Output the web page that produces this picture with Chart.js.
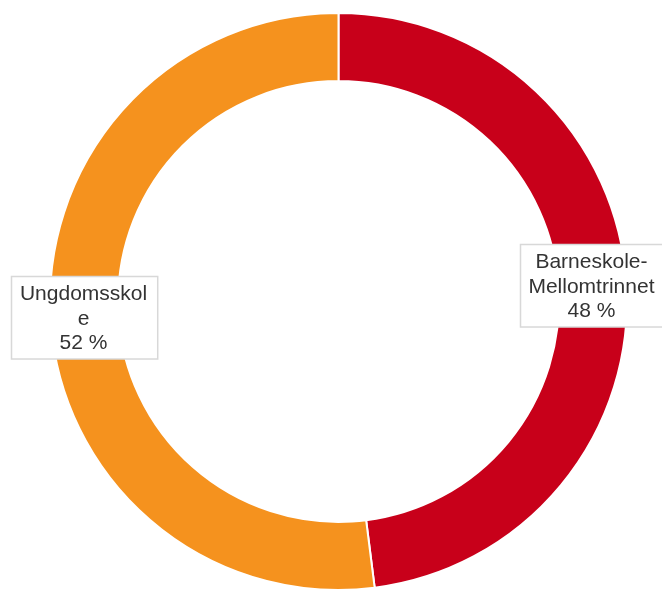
<!DOCTYPE html>
<html>
<head>
<meta charset="utf-8">
<script src="https://cdn.jsdelivr.net/npm/chart.js@4"></script>
<style>
  html, body { margin: 0; padding: 0; background: #fff; overflow: hidden; }
  #wrap { position: relative; width: 662px; height: 600px; }
</style>
</head>
<body>
<div id="wrap"><canvas id="donut"></canvas></div>
<script>
// ---------- DATA ----------
const categories = ['Barneskole-Mellomtrinnet', 'Ungdomsskole'];
const shares     = [48, 52];            // percent
const colours    = ['#c8001a', '#f5921e'];

// ---------- label plugin: boxed text centred on each arc ----------
const FONT = '21px "Liberation Sans", Arial, sans-serif';
const LINE_H = 24.5;
const MAX_W  = 132;

function wrapText (ctx, text, maxW) {
  // break after hyphens first, then by character if a piece is still too wide
  const tokens = text.split(/(?<=-)/);
  const lines = [];
  let cur = '';
  tokens.forEach(tok => {
    if (ctx.measureText(cur + tok).width <= maxW) { cur += tok; return; }
    if (cur) { lines.push(cur); cur = ''; }
    for (const ch of tok) {
      if (ctx.measureText(cur + ch).width > maxW && cur) { lines.push(cur); cur = ''; }
      cur += ch;
    }
  });
  if (cur) lines.push(cur);
  return lines;
}

const boxLabels = {
  id: 'boxLabels',
  afterDatasetsDraw (chart) {
    const ctx = chart.ctx;
    const meta = chart.getDatasetMeta(0);
    ctx.save();
    ctx.font = FONT;
    meta.data.forEach((arc, i) => {
      const p = arc.tooltipPosition();
      const lines = wrapText(ctx, categories[i], MAX_W);
      lines.push(shares[i] + ' %');
      const w = Math.max(...lines.map(l => ctx.measureText(l).width)) + 19;
      const h = lines.length * LINE_H + 9;
      const x0 = Math.round(p.x - w / 2) + 0.5, y0 = Math.round(p.y - h / 2) + 0.5;
      ctx.fillStyle = '#fff';
      ctx.fillRect(x0, y0, w, h);
      ctx.strokeStyle = '#d8d8d8';
      ctx.lineWidth = 1.5;
      ctx.strokeRect(x0, y0, w, h);
      ctx.fillStyle = '#333';
      ctx.textAlign = 'center';
      ctx.textBaseline = 'middle';
      lines.forEach((l, k) => {
        ctx.fillText(l, p.x - 1, y0 + 4.5 + LINE_H * (k + 0.5) + 1);
      });
    });
    ctx.restore();
  }
};

new Chart(document.getElementById('donut'), {
  type: 'doughnut',
  data: {
    labels: categories,
    datasets: [{
      data: shares,
      backgroundColor: colours,
      borderColor: '#fff',
      borderWidth: 2
    }]
  },
  options: {
    responsive: true,
    maintainAspectRatio: false,
    animation: false,
    cutout: '76.4%',
    layout: { padding: { left: 49, right: 34, top: 12, bottom: 9 } },
    plugins: {
      legend: { display: false },
      tooltip: { enabled: false }
    }
  },
  plugins: [boxLabels]
});
</script>
</body>
</html>
